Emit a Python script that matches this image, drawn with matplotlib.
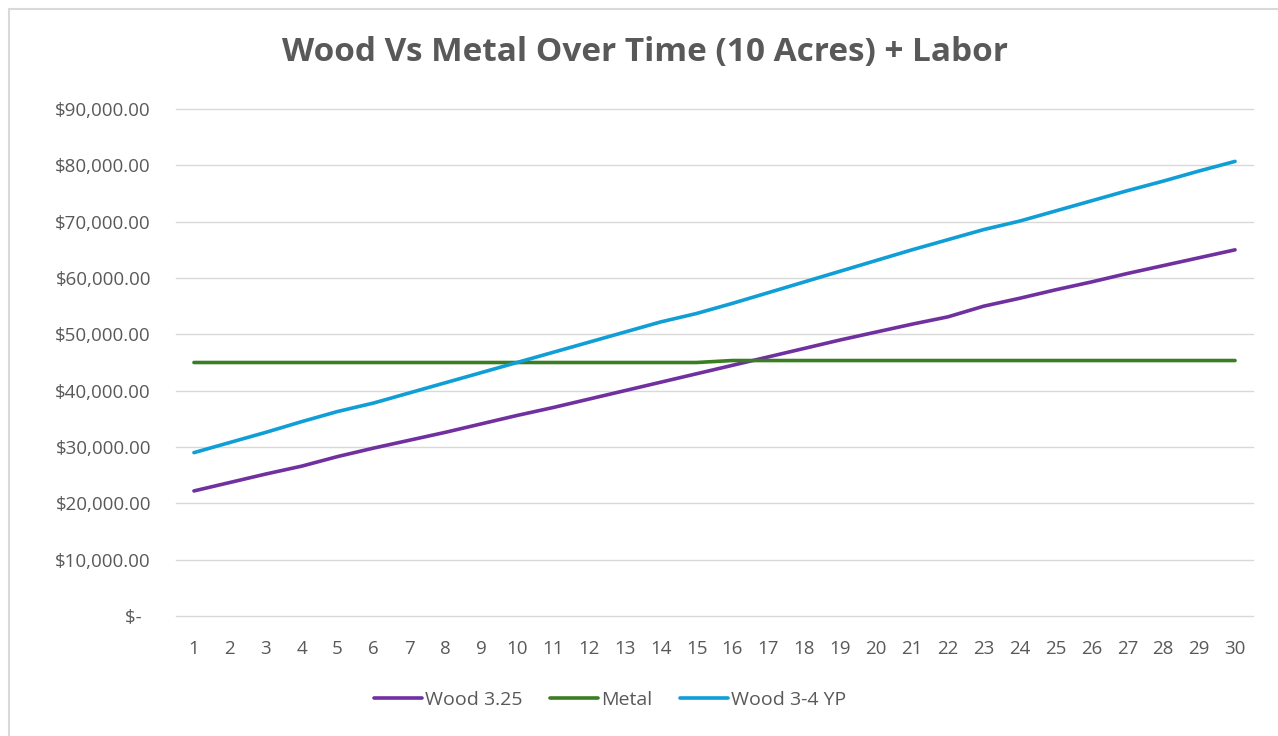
import matplotlib.pyplot as plt
from matplotlib.patches import Rectangle
from matplotlib.ticker import FuncFormatter

years = list(range(1, 31))

wood_325 = [22200, 23700, 25200, 26600, 28300, 29800, 31200, 32600, 34100, 35600,
            37000, 38500, 40000, 41500, 43000, 44500, 46000, 47500, 49000, 50400,
            51800, 53100, 55000, 56400, 57900, 59300, 60800, 62200, 63600, 65000]
metal = [45000] * 15 + [45350] * 15
wood_34yp = [29000, 30800, 32600, 34500, 36300, 37800, 39600, 41400, 43200, 45000,
             46800, 48600, 50400, 52200, 53700, 55500, 57400, 59300, 61200, 63100,
             65000, 66800, 68600, 70100, 71900, 73700, 75500, 77200, 79000, 80700]

series_names = ["Wood 3.25", "Metal", "Wood 3-4 YP"]
colors = ["#7030A0", "#3A7D22", "#0F9ED5"]
y_ticks = list(range(0, 90001, 10000))

plt.rcParams["font.family"] = ["Open Sans", "DejaVu Sans"]
text_color = "#595959"

fig = plt.figure(figsize=(12.78, 7.36), dpi=100)
ax = fig.add_axes([176 / 1278, 1 - 616 / 736, (1253 - 176) / 1278, (616 - 109) / 736])

# chart border
fig.patches.append(Rectangle((9 / 1278, -0.1), 1.2, 1 - 9 / 736 + 0.1,
                             transform=fig.transFigure, fill=False,
                             edgecolor="#D9D9D9", linewidth=1.5))

for vals, name, c in zip([wood_325, metal, wood_34yp], series_names, colors):
    ax.plot(years, vals, color=c, linewidth=2.6, label=name,
            solid_capstyle="round", solid_joinstyle="round", zorder=3)

ax.set_xlim(0.5, 30.5)
ax.set_ylim(0, 90000)
ax.set_xticks(years)
ax.set_yticks(y_ticks)


def money(v, pos):
    if v == 0:
        return "$-  "
    return "${:,.2f}".format(v)


ax.yaxis.set_major_formatter(FuncFormatter(money))
ax.grid(axis="y", color="#D9D9D9", linewidth=1)
for gl in ax.get_ygridlines():
    gl.set_clip_on(False)
ax.set_axisbelow(True)
for s in ax.spines.values():
    s.set_visible(False)
ax.tick_params(axis="both", length=0, colors=text_color, labelsize=13.5)
ax.tick_params(axis="y", pad=18)
ax.tick_params(axis="x", pad=17)

fig.text(645 / 1278, 1 - 53 / 736, "Wood Vs Metal Over Time (10 Acres) + Labor",
         ha="center", va="center", fontsize=24, fontweight="bold", color=text_color)

leg = fig.legend(loc="center", bbox_to_anchor=(610 / 1278, 1 - 700 / 736), ncol=3,
                 frameon=False, fontsize=14, handlelength=2.5, handletextpad=0.15,
                 columnspacing=1.4)
for t in leg.get_texts():
    t.set_color(text_color)

fig.savefig("out.png", dpi=100)
